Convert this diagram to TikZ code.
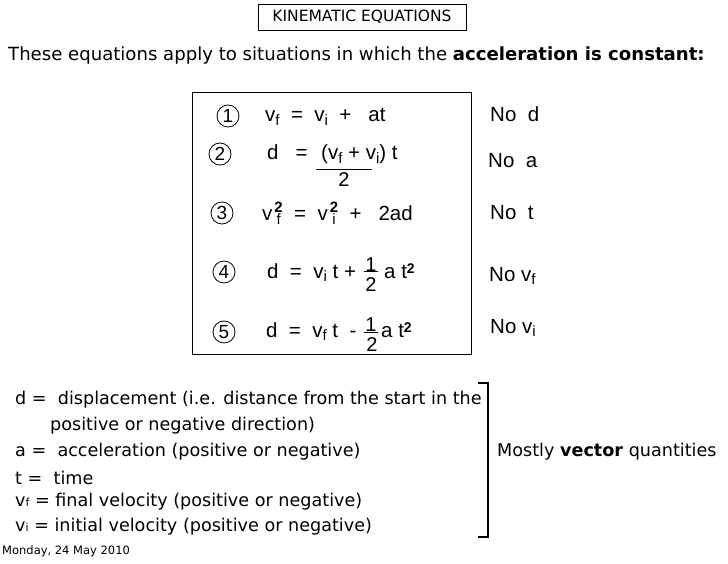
\documentclass[tikz,border=0pt]{standalone}
\usepackage{fontspec}
\setmainfont{DejaVu Sans}
\newfontfamily\eqf{Liberation Sans}
\newcommand{\sbs}[1]{\raisebox{-0.3ex}{\fontsize{15}{15}\selectfont #1}}
\newcommand{\vsq}[1]{v\hspace{2pt}\raisebox{-0.3ex}{\fontsize{15}{15}\selectfont\shortstack{\bfseries 2\\[-2pt]#1}}}
\begin{document}
\begin{tikzpicture}[x=1pt,y=-1pt,
  txt/.style={font=\fontsize{17.6}{20}\selectfont,anchor=west,inner sep=0},
  eq/.style={font=\eqf\fontsize{20.5}{22}\selectfont,anchor=base west,inner sep=0},
  num/.style={circle,draw,thick,inner sep=0,minimum size=22pt,font=\eqf\fontsize{19}{19}\selectfont},
  frac/.style={font=\eqf\fontsize{20}{22}\selectfont,inner sep=0}]
\useasboundingbox (0,0) rectangle (728,564);
\node[draw,inner sep=0,minimum width=208pt,minimum height=26pt,font=\fontsize{15.5}{17}\selectfont] (title) at (362,17) {KINEMATIC EQUATIONS};
\node[txt,font=\fontsize{18.1}{20}\selectfont] (intro) at (8,56) {These equations apply to situations in which the \textbf{acceleration is constant:}};
\node[draw,thick,minimum width=279pt,minimum height=262pt,inner sep=0] (box) at (331.5,223) {};
\node[num] (n1) at (228,116) {1};
\node[num] (n2) at (220,154) {2};
\node[num] (n3) at (222,213) {3};
\node[num] (n4) at (224,272) {4};
\node[num] (n5) at (224,332) {5};
\node[eq] (e1) at (265,122) {v\sbs{f}\ \ =\ \ v\sbs{i}\ \ +\ \ \ at};
\node[eq] (e2a) at (267,160) {d\ \ \ =};
\node[eq] (e2b) at (321,160) {(v\sbs{f} + v\sbs{i}) t};
\coordinate (l2a) at (316,169); \coordinate (l2b) at (372,169);
\draw (l2a) -- (l2b);
\node[frac] (e2c) at (344,180) {2};
\node[eq] (e3) at (262,221) {\vsq{f}\ \ =\ \ \vsq{i}\ \ +\ \ \ 2ad};
\node[eq] (e4a) at (267,278) {d\ \ =\ \ v\sbs{i} t +};
\node[frac] (e4n) at (371,265) {1};
\coordinate (l4a) at (364,271); \coordinate (l4b) at (378,271);
\draw[thick] (l4a) -- (l4b);
\node[frac] (e4d) at (371,285) {2};
\node[eq] (e4b) at (384,278) {a t{\fontsize{14}{14}\selectfont\raisebox{0.6ex}{\bfseries 2}}};
\node[eq] (e5a) at (266,337) {d\ \ =\ \ v\sbs{f} t\ \ -};
\node[frac] (e5n) at (371,325) {1};
\coordinate (l5a) at (364,332); \coordinate (l5b) at (378,332);
\draw[thick] (l5a) -- (l5b);
\node[frac] (e5d) at (372,345) {2};
\node[eq] (e5b) at (381,337) {a t{\fontsize{14}{14}\selectfont\raisebox{0.6ex}{\bfseries 2}}};
\node[eq] (nd) at (490,122) {No\ \ d};
\node[eq] (na) at (488,168) {No\ \ a};
\node[eq] (nt) at (490,220) {No\ \ t};
\node[eq] (nvf) at (489,281) {No v\sbs{f}};
\node[eq] (nvi) at (490,333) {No v\sbs{i}};
\node[txt] (l1) at (15,400) {d =\ \ displacement (i.e. distance from the start in the};
\node[txt] (l2) at (50,426) {positive or negative direction)};
\node[txt] (l3) at (15,452) {a =\ \ acceleration (positive or negative)};
\node[txt] (l4) at (15,478) {t =\ \ time};
\node[txt] (l5) at (15,502) {v{\fontsize{11}{11}\selectfont f} = final velocity (positive or negative)};
\node[txt] (l6) at (15,527) {v{\fontsize{11}{11}\selectfont i} = initial velocity (positive or negative)};
\coordinate (b1) at (478,383); \coordinate (b2) at (488,383);
\coordinate (b3) at (488,537); \coordinate (b4) at (478,537);
\draw[line width=2pt] (b1) -- (b2) -- (b3) -- (b4);
\node[txt] (mv) at (497,452) {Mostly \textbf{vector} quantities};
\node[anchor=west,inner sep=0,font=\fontsize{11.5}{12}\selectfont] (date) at (2,551) {Monday, 24 May 2010};
\end{tikzpicture}
\end{document}
